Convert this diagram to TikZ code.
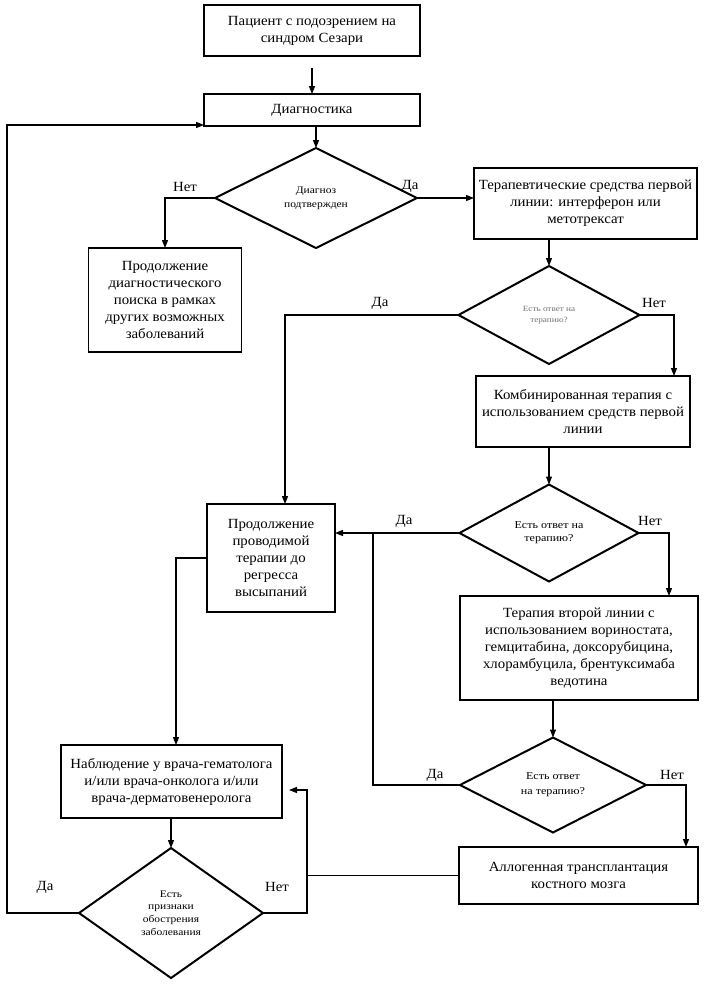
\documentclass[tikz,border=0pt]{standalone}
\usepackage{fontspec}
\setmainfont{Liberation Serif}
\newfontfamily\boxfont[FakeStretch=1.06]{Liberation Serif}
\newfontfamily\diafont[FakeStretch=1.15]{Liberation Serif}
\usetikzlibrary{shapes.geometric,arrows.meta,calc}
\begin{document}
\begin{tikzpicture}[x=1pt,y=-1pt,
 box/.style={draw, line width=1.3pt, rectangle, inner sep=0pt, outer sep=0pt, align=center, font=\boxfont\fontsize{14}{17}\selectfont},
 dia/.style={draw, line width=2pt, diamond, inner sep=0pt, outer sep=0pt, align=center},
 conn/.style={line width=1.2pt},
 arr/.style={conn, -{Triangle[length=8pt,width=6pt]}},
 lbl/.style={font=\boxfont\fontsize{14}{16}\selectfont, inner sep=0pt}]
\useasboundingbox[fill=white] (0,0) rectangle (706,985);

\node[box, minimum width=216, minimum height=51] (p1) at (312,30.5) {Пациент с подозрением на\\синдром Сезари};
\node[box, minimum width=216, minimum height=32] (diag) at (312,110) {Диагностика};
\node[dia, minimum width=202, minimum height=100, font=\diafont\fontsize{10}{14}\selectfont] (d1) at (316,198) {Диагноз\\подтвержден};
\node[box, minimum width=223, minimum height=71] (ther1) at (585.5,203.5) {Терапевтические средства первой\\линии: интерферон или\\метотрексат};
\node[box, minimum width=153, minimum height=104] (cont1) at (165,300) {Продолжение\\диагностического\\поиска в рамках\\других возможных\\заболеваний};
\node[dia, minimum width=181, minimum height=98, font=\diafont\fontsize{8}{10.5}\selectfont, text=black!55] (d2) at (549,315) {Есть ответ на\\терапию?};
\node[box, minimum width=214, minimum height=71] (comb) at (583,411.5) {Комбинированная терапия с\\использованием средств первой\\линии};
\node[dia, minimum width=179, minimum height=97, font=\diafont\fontsize{10.5}{13}\selectfont] (d3) at (549,533) {Есть ответ на\\терапию?};
\node[box, minimum width=128, minimum height=108] (cont2) at (271,558) {Продолжение\\проводимой\\терапии до\\регресса\\высыпаний};
\node[box, minimum width=238, minimum height=104] (second) at (579,648) {Терапия второй линии с\\использованием вориностата,\\гемцитабина, доксорубицина,\\хлорамбуцила, брентуксимаба\\ведотина};
\node[dia, minimum width=186, minimum height=95, font=\diafont\fontsize{10.5}{15}\selectfont] (d4) at (553,785) {Есть ответ\\на терапию?};
\node[box, minimum width=221, minimum height=73] (obs) at (171.5,781.5) {Наблюдение у врача-гематолога\\и/или врача-онколога и/или\\врача-дерматовенеролога};
\node[box, minimum width=239, minimum height=57] (allo) at (578.5,875.5) {Аллогенная трансплантация\\костного мозга};
\node[dia, minimum width=184, minimum height=130, font=\diafont\fontsize{10}{12.7}\selectfont] (d5) at (171,913) {Есть\\признаки\\обострения\\заболевания};

\coordinate (j1) at (373,533);
\coordinate (j2) at (307,790);
\coordinate (k) at (289,790);
\coordinate (l1) at (7,125);

\draw[arr] ([yshift=-12pt]p1.south) -- (diag.north);
\draw[arr] (d1.north |- diag.south) -- (d1.north);
\draw[arr] (d1.west) -| (cont1.north);
\draw[arr] (d1.east) -- (d1.east -| ther1.west);
\draw[arr] (d2.north |- ther1.south) -- (d2.north);
\draw[arr] (d2.west) -| ([xshift=14pt]cont2.north);
\draw[arr] (d2.east) -| ([xshift=-16pt]comb.north east);
\draw[arr] (d3.north |- comb.south) -- (d3.north);
\draw[arr] (d3.west) -- (d3.west -| cont2.east);
\draw[arr] (d3.east) -| ([xshift=-29pt]second.north east);
\draw[arr] (d4.north |- second.south) -- (d4.north);
\draw[conn] (d4.west) -| (j1);
\draw[arr] (d4.east) -| ([xshift=-12pt]allo.north east);
\draw[arr] (cont2.west) -| ([xshift=4.5pt]obs.north);
\draw[arr] (d5.north |- obs.south) -- (d5.north);
\draw[arr] (d5.east) -| (j2) -- (k);
\draw[conn] (allo.west) -- (allo.west -| j2);
\draw[arr] (d5.west) -| (l1) -- (l1 -| diag.west);

\node[lbl] (n1) at (185,187) {Нет};
\node[lbl] (y1) at (410,186) {Да};
\node[lbl] (y2) at (380,303) {Да};
\node[lbl] (n2) at (654,303) {Нет};
\node[lbl] (y3) at (404,521) {Да};
\node[lbl] (n3) at (650,521) {Нет};
\node[lbl] (y4) at (435,775) {Да};
\node[lbl] (n4) at (672,775) {Нет};
\node[lbl] (y5) at (45,887) {Да};
\node[lbl] (n5) at (277,887) {Нет};
\end{tikzpicture}
\end{document}
